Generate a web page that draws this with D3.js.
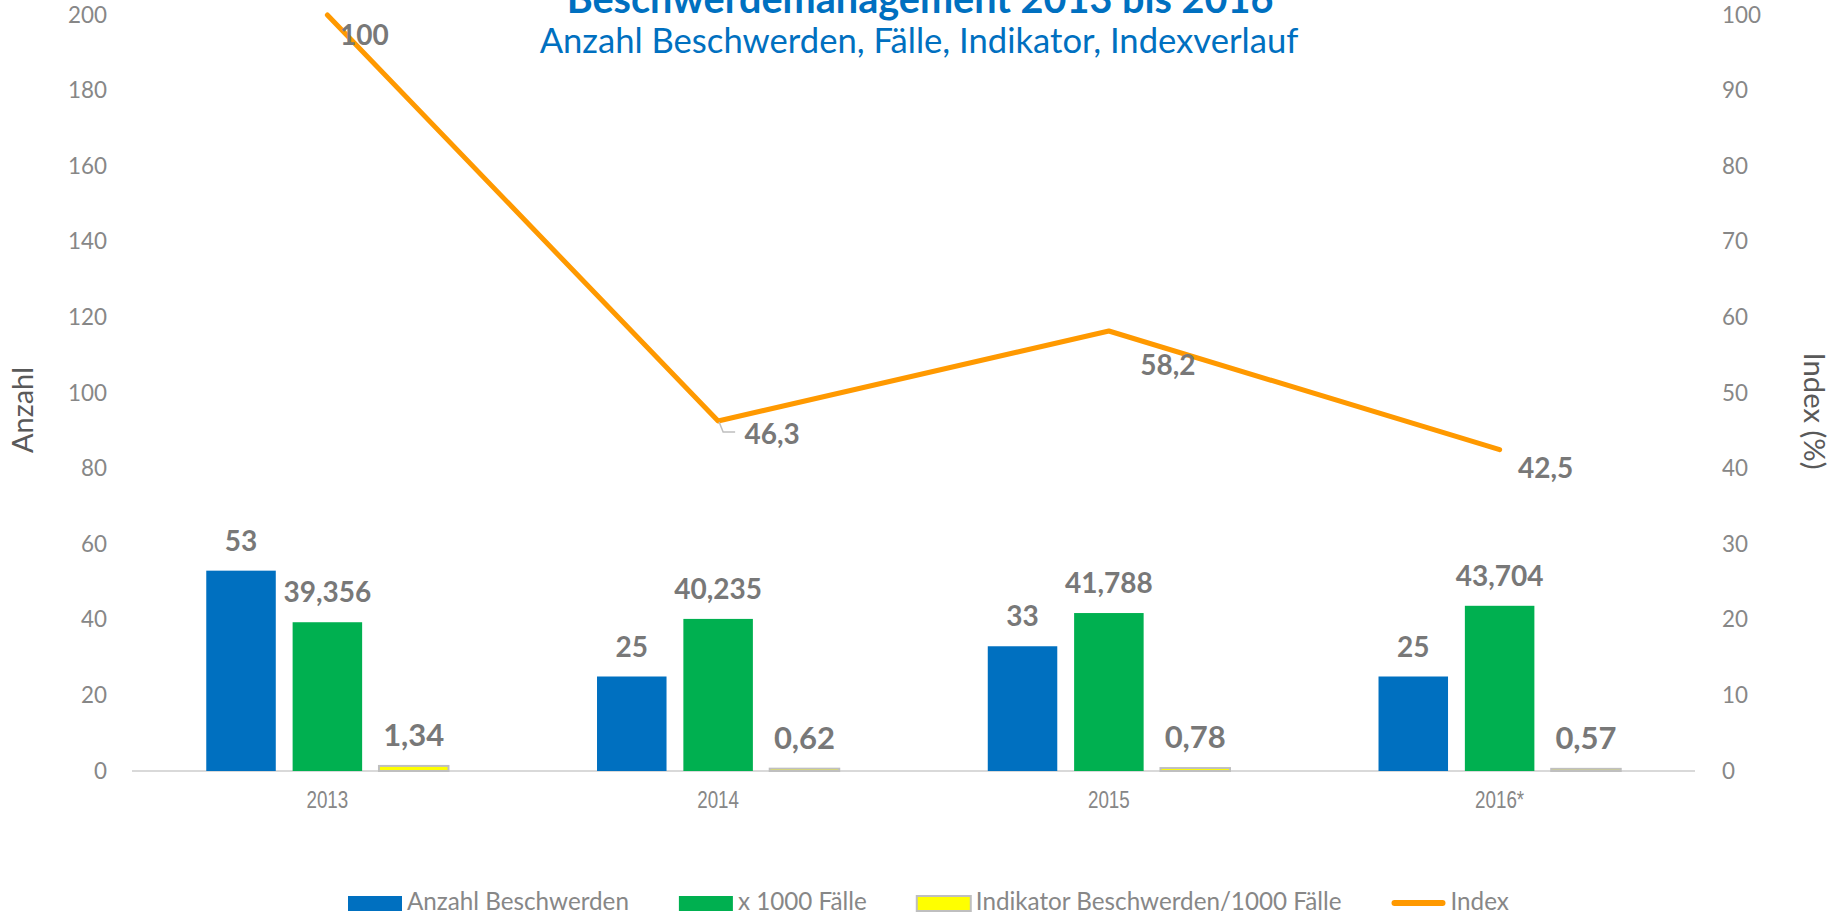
<!DOCTYPE html>
<html>
	<head>
		<meta charset="utf-8">
		<title>Beschwerdemanagement 2013 bis 2016</title>
		<style>
			body, html {
				margin: 0;
				padding: 0;
				background: #fff;
			}
			svg {
				display: block;
				font-family: Lato, 'Open Sans', sans-serif;
			}
		</style>
	</head>
	<body>

		<svg id="svg" width="1839" height="914"></svg>

		<script src="https://d3js.org/d3.v7.min.js"></script>
		<script>
			/*
			Beschwerdemanagement 2013 bis 2016
			bars on the left axis (Anzahl), index line on the right axis (%)
			*/

			// Values
			const years = ['2013', '2014', '2015', '2016*']
			const beschwerden = [53, 25, 33, 25]
			const faelle = [39.356, 40.235, 41.788, 43.704]
			const indikator = [1.34, 0.62, 0.78, 0.57]
			const indexWerte = [100, 46.3, 58.2, 42.5]

			const leftTicks = [0, 20, 40, 60, 80, 100, 120, 140, 160, 180, 200]
			const rightTicks = [0, 10, 20, 30, 40, 50, 60, 70, 80, 90, 100]

			const seriesNames = ['Anzahl Beschwerden', 'x 1000 Fälle', 'Indikator Beschwerden/1000 Fälle', 'Index']
			const seriesColors = ['#0070c0', '#00b050', '#ffff00', '#ff9900']

			const barSeries = [beschwerden, faelle, indikator]

			// German number format: 39,356 / 46,3
			const de = d3.formatLocale({ decimal: ',', thousands: '.', grouping: [3], currency: ['', ' €'] })
			const fmt = de.format('~g')

			const svg = d3.select('#svg')

			// fit a text to a given width by scaling its font size
			function fit(text, width) {
				const w = text.node().getComputedTextLength()
				const size = parseFloat(text.attr('font-size'))
				text.attr('font-size', size * width / w)
				return size * width / w
			}

			// Scales
			const x0 = d3.scaleBand()
				.domain(years)
				.range([132, 1695])

			const x1 = d3.scaleBand()
				.domain(d3.range(barSeries.length))
				.range([0, x0.bandwidth()])
				.paddingInner(0.195)
				.paddingOuter(0.86)

			const yLeft = d3.scaleLinear()
				.domain([0, 200])
				.range([771, 15])

			const yRight = d3.scaleLinear()
				.domain([0, 100])
				.range([771, 15])

			// Axes (labels only)
			const axisStyle = g => {
				g.select('.domain').remove()
				g.attr('font-family', 'Lato, sans-serif')
					.attr('font-size', 22.4)
				g.selectAll('text').attr('fill', '#878787')
			}

			svg.append('g')
				.attr('transform', 'translate(132,0)')
				.call(d3.axisLeft(yLeft).tickValues(leftTicks).tickSize(0).tickPadding(25))
				.call(axisStyle)

			svg.append('g')
				.attr('transform', 'translate(1695,0)')
				.call(d3.axisRight(yRight).tickValues(rightTicks).tickSize(0).tickPadding(27))
				.call(axisStyle)

			// category axis line
			svg.append('line')
				.attr('x1', x0.range()[0])
				.attr('x2', x0.range()[1])
				.attr('y1', yLeft(0))
				.attr('y2', yLeft(0))
				.attr('stroke', '#d9d9d9')
				.attr('stroke-width', 2)

			// category labels (narrow font)
			svg.append('g')
				.selectAll('text')
				.data(years)
				.join('text')
				.attr('transform', d => `translate(${x0(d) + x0.bandwidth() / 2},808) scale(0.8,1)`)
				.attr('text-anchor', 'middle')
				.attr('font-family', "'Liberation Sans', Arial, sans-serif")
				.attr('font-size', 23.5)
				.attr('fill', '#878787')
				.text(d => d)

			// Bars
			const groups = svg.append('g')
				.selectAll('g')
				.data(years)
				.join('g')
				.attr('transform', d => `translate(${x0(d)},0)`)

			groups.selectAll('rect')
				.data((d, i) => barSeries.map((s, k) => ({ k: k, v: s[i] })))
				.join('rect')
				.attr('x', d => x1(d.k))
				.attr('width', x1.bandwidth())
				.attr('y', d => yLeft(d.v))
				.attr('height', d => yLeft(0) - yLeft(d.v))
				.attr('fill', d => seriesColors[d.k])
				.attr('stroke', d => d.k === 2 ? '#bfbfbf' : 'none')
				.attr('stroke-width', 2)

			groups.selectAll('text')
				.data((d, i) => barSeries.map((s, k) => ({ k: k, v: s[i] })))
				.join('text')
				.attr('x', d => x1(d.k) + x1.bandwidth() / 2)
				.attr('y', d => yLeft(d.v) - 20)
				.attr('text-anchor', 'middle')
				.attr('font-weight', 'bold')
				.attr('font-size', d => d.k === 2 ? 31 : 28)
				.attr('fill', '#787878')
				.text(d => fmt(d.v))

			// Index line
			const cx = i => x0(years[i]) + x0.bandwidth() / 2

			const linegen = d3.line()
				.x((d, i) => cx(i))
				.y(d => yRight(d))

			svg.append('path')
				.attr('d', linegen(indexWerte))
				.attr('fill', 'none')
				.attr('stroke', seriesColors[3])
				.attr('stroke-width', 5)
				.attr('stroke-linejoin', 'round')
				.attr('stroke-linecap', 'round')

			// label nudges (dx, baseline dy) as placed in the original
			const lineLabelShift = [[37, 30], [54, 23], [59, 44], [46, 28]]

			svg.append('g')
				.selectAll('text')
				.data(indexWerte)
				.join('text')
				.attr('x', (d, i) => cx(i) + lineLabelShift[i][0])
				.attr('y', (d, i) => yRight(d) + lineLabelShift[i][1])
				.attr('text-anchor', 'middle')
				.attr('font-weight', 'bold')
				.attr('font-size', 28)
				.attr('fill', '#787878')
				.text(d => fmt(d))

			// leader line for 46,3
			const p = [cx(1), yRight(indexWerte[1])]
			svg.append('path')
				.attr('d', `M${p[0] + 1},${p[1] + 1}L${p[0] + 5},${p[1] + 11}L${p[0] + 17},${p[1] + 11}`)
				.attr('fill', 'none')
				.attr('stroke', '#bfbfbf')
				.attr('stroke-width', 1.5)

			// Titles
			const title = svg.append('text')
				.attr('x', 920)
				.attr('y', 13)
				.attr('text-anchor', 'middle')
				.attr('font-weight', 'bold')
				.attr('font-size', 30)
				.attr('fill', '#0070c0')
				.text('Beschwerdemanagement 2013 bis 2016')
			fit(title, 707)

			const subtitle = svg.append('text')
				.attr('x', 919)
				.attr('y', 53)
				.attr('text-anchor', 'middle')
				.attr('font-size', 30)
				.attr('fill', '#0070c0')
				.text('Anzahl Beschwerden, Fälle, Indikator, Indexverlauf')
			fit(subtitle, 759)

			// Axis titles
			const leftTitle = svg.append('text')
				.attr('transform', 'translate(33,410) rotate(-90)')
				.attr('text-anchor', 'middle')
				.attr('font-size', 26)
				.attr('fill', '#595959')
				.text('Anzahl')
			fit(leftTitle, 86)

			const rightTitle = svg.append('text')
				.attr('transform', 'translate(1804,411) rotate(90)')
				.attr('text-anchor', 'middle')
				.attr('font-size', 26)
				.attr('fill', '#595959')
				.text('Index (%)')
			fit(rightTitle, 117)

			// Legend
			const legend = svg.append('g')
			let lx = 348
			let legendSize = null
			seriesNames.forEach((name, k) => {
				const item = legend.append('g').attr('transform', `translate(${lx},0)`)
				if (k < 3) {
					item.append('rect')
						.attr('x', 0).attr('y', 896)
						.attr('width', 54).attr('height', 15)
						.attr('fill', seriesColors[k])
						.attr('stroke', k === 2 ? '#bfbfbf' : 'none')
						.attr('stroke-width', 2)
				} else {
					item.append('line')
						.attr('x1', 3).attr('x2', 51)
						.attr('y1', 903).attr('y2', 903)
						.attr('stroke', seriesColors[k])
						.attr('stroke-width', 6)
						.attr('stroke-linecap', 'round')
				}
				const t = item.append('text')
					.attr('x', 59)
					.attr('y', 910)
					.attr('font-size', legendSize || 24)
					.attr('fill', '#878787')
					.text(name)
				if (!legendSize) legendSize = fit(t, 222)
				lx += 59 + t.node().getComputedTextLength() + 50
			})
		</script>
	</body>
</html>
